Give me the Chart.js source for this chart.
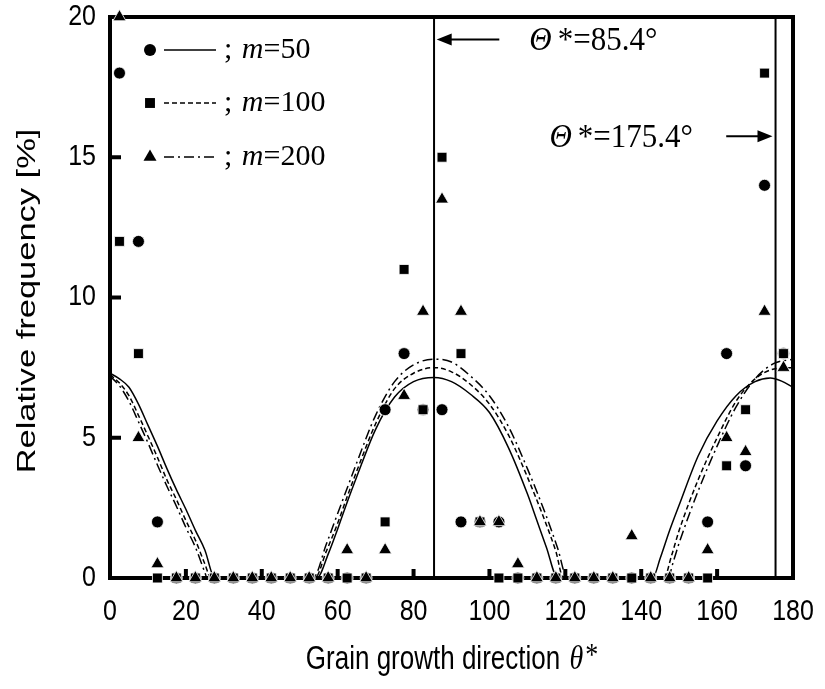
<!DOCTYPE html>
<html>
<head>
<meta charset="utf-8">
<script src="https://cdn.jsdelivr.net/npm/chart.js@4.4.1/dist/chart.umd.min.js"></script>
<style>
  body { margin: 0; background: #fff; }
  #wrap { width: 825px; height: 689px; }
</style>
</head>
<body>
<div id="wrap"><canvas id="freq"></canvas></div>
<script>
// 5 degree bins
const binCentres = [2.5, 7.5, 12.5, 17.5, 22.5, 27.5, 32.5, 37.5, 42.5, 47.5, 52.5, 57.5,
  62.5, 67.5, 72.5, 77.5, 82.5, 87.5, 92.5, 97.5, 102.5, 107.5, 112.5, 117.5,
  122.5, 127.5, 132.5, 137.5, 142.5, 147.5, 152.5, 157.5, 162.5, 167.5, 172.5, 177.5];

// relative frequency [%]
const freqM50 = [18, 12, 2, 0, 0, 0, 0, 0, 0, 0, 0, 0,
  0, 0, 6, 8, 6, 6, 2, 2, 2, 0, 0, 0,
  0, 0, 0, 0, 0, 0, 0, 2, 8, 4, 14, 8];
const freqM100 = [12, 8, 0, 0, 0, 0, 0, 0, 0, 0, 0, 0,
  0, 0, 2, 11, 6, 15, 8, 2, 0, 0, 0, 0,
  0, 0, 0, 0, 0, 0, 0, 0, 4, 6, 18, 8];
const freqM200 = [20, 5, 0.5, 0, 0, 0, 0, 0, 0, 0, 0, 0,
  1, 0, 1, 6.5, 9.5, 13.5, 9.5, 2, 2, 0.5, 0, 0,
  0, 0, 0, 1.5, 0, 0, 0, 1, 5, 4.5, 9.5, 7.5];

// fitted curves
const fitM50X = [0, 2.5, 5, 7.5, 10, 12.5, 15, 17.5, 20, 22.5, 25, 27.6,
  54.5, 57.5, 60, 62.5, 65, 70, 75, 80, 85.4, 90, 95, 100, 105, 110, 112.5, 115, 118,
  143, 145, 147.5, 150, 155, 160, 165, 170, 174, 177, 180];
const fitM50Y = [7.3, 7.1, 6.8, 6.2, 5.45, 4.7, 3.9, 3.15, 2.45, 1.7, 1.0, 0,
  0, 0.85, 1.75, 2.7, 3.6, 5.3, 6.45, 7.0, 7.15, 7.0, 6.55, 5.9, 4.65, 3.0, 2.05, 1.1, 0,
  0, 0.7, 1.7, 2.6, 4.35, 5.6, 6.5, 7.0, 7.13, 7.02, 6.8];
const fitM100X = [0, 2.5, 5, 7.5, 10, 12.5, 15, 17.5, 20, 22.5, 25, 26.6,
  54, 57, 60, 62.5, 65, 70, 75, 80, 85.4, 90, 95, 100, 105, 110, 115, 117.5, 119.5,
  146, 148, 150, 155, 160, 165, 170, 175, 180];
const fitM100Y = [7.25, 6.95, 6.5, 5.8, 5.06, 4.3, 3.5, 2.8, 2.05, 1.35, 0.5, 0,
  0, 0.95, 1.95, 2.9, 3.8, 5.5, 6.75, 7.3, 7.5, 7.35, 6.9, 6.2, 5.1, 3.6, 1.9, 0.95, 0,
  0, 0.8, 1.7, 3.5, 5.0, 6.3, 7.1, 7.45, 7.5];
const fitM200X = [0, 2.5, 5, 7.5, 10, 12.5, 15, 17.5, 20, 22.5, 25, 25.6,
  53.5, 57, 60, 62.5, 65, 70, 75, 80, 85.4, 90, 95, 100, 105, 110, 115, 118, 120.5,
  147, 148.5, 150, 155, 160, 165, 170, 175, 180];
const fitM200Y = [7.2, 6.85, 6.3, 5.57, 4.82, 4.03, 3.27, 2.56, 1.8, 1.1, 0.2, 0,
  0, 1.2, 2.3, 3.2, 4.1, 5.8, 7.0, 7.6, 7.8, 7.7, 7.2, 6.5, 5.4, 3.9, 2.2, 1.05, 0,
  0, 0.6, 1.25, 3.1, 4.7, 6.1, 7.1, 7.65, 7.8];

const thetaStar = [85.4, 175.4];
const thetaLabels = ['*=85.4\u00b0', '*=175.4\u00b0'];
const legendLabels = ['50', '100', '200'];
const xTicks = [0, 20, 40, 60, 80, 100, 120, 140, 160, 180];
const yTicks = [0, 5, 10, 15, 20];

const toPts = (xs, ys) => xs.map((x, i) => ({ x: x, y: ys[i] }));

const sans = '"Liberation Sans", Arial, sans-serif';
const serif = '"Liberation Serif", "Times New Roman", serif';

function stretchText(ctx, txt, x, y, sy, align) {
  ctx.save();
  ctx.translate(x, y);
  ctx.scale(1, sy);
  ctx.textAlign = align;
  ctx.textBaseline = 'middle';
  ctx.fillText(txt, 0, 0);
  ctx.restore();
}

function arrow(ctx, x1, x2, y) {
  const dir = x2 > x1 ? 1 : -1;
  ctx.beginPath();
  ctx.moveTo(x1, y);
  ctx.lineTo(x2 - dir * 12, y);
  ctx.lineWidth = 2;
  ctx.stroke();
  ctx.beginPath();
  ctx.moveTo(x2, y);
  ctx.lineTo(x2 - dir * 15, y - 6);
  ctx.lineTo(x2 - dir * 15, y + 6);
  ctx.closePath();
  ctx.fill();
}

const decor = {
  id: 'decor',
  beforeDatasetsDraw(chart) {
    const { ctx, chartArea: a, scales: { x, y } } = chart;
    ctx.save();
    ctx.strokeStyle = '#000';
    ctx.lineWidth = 4;
    ctx.strokeRect(a.left, a.top, a.right - a.left, a.bottom - a.top);
    ctx.beginPath();
    yTicks.slice(1, -1).forEach(v => {
      const py = y.getPixelForValue(v);
      ctx.moveTo(a.left, py);
      ctx.lineTo(a.left + 11, py);
    });
    xTicks.slice(1, -1).forEach(v => {
      const px = x.getPixelForValue(v);
      ctx.moveTo(px, a.bottom);
      ctx.lineTo(px, a.bottom - 9);
    });
    ctx.stroke();
    ctx.restore();
  },
  afterDraw(chart) {
    const { ctx, chartArea: a, scales: { x, y } } = chart;
    ctx.save();
    ctx.fillStyle = '#000';
    ctx.strokeStyle = '#000';

    // tick labels
    ctx.font = '25px ' + sans;
    yTicks.forEach(v => stretchText(ctx, String(v), 96, y.getPixelForValue(v), 1.15, 'right'));
    xTicks.forEach(v => stretchText(ctx, String(v), x.getPixelForValue(v), 612, 1.15, 'center'));

    // y title
    ctx.save();
    ctx.translate(28, 301);
    ctx.rotate(-Math.PI / 2);
    ctx.scale(1.3, 1);
    ctx.font = '26.5px ' + sans;
    ctx.textAlign = 'center';
    ctx.textBaseline = 'middle';
    ctx.fillText('Relative frequency [%]', 0, 0);
    ctx.restore();

    // x title
    ctx.font = '26px ' + sans;
    const t1 = 'Grain growth direction ';
    const w1 = ctx.measureText(t1).width;
    ctx.font = 'italic 28px ' + serif;
    const w2 = ctx.measureText('\u03b8').width;
    ctx.font = '26px ' + serif;
    const w3 = ctx.measureText('*').width;
    let sx = 452 - (w1 + w2 + w3 + 4) / 2;
    ctx.font = '26px ' + sans;
    stretchText(ctx, t1, sx, 660, 1.3, 'left');
    ctx.font = 'italic 28px ' + serif;
    stretchText(ctx, '\u03b8', sx + w1 + 2, 660, 1.2, 'left');
    ctx.font = '26px ' + serif;
    stretchText(ctx, '*', sx + w1 + w2 + 4, 657, 1.2, 'left');

    // legend
    const rows = [50, 103, 157];
    const dashes = [[], [5, 3], [10, 4, 2, 4]];
    const styles = ['circle', 'rect', 'triangle'];
    const radii = [6, 7, 7.5];
    rows.forEach((ry, i) => {
      Chart.helpers.drawPoint(ctx, { pointStyle: styles[i], radius: radii[i], borderWidth: 0 }, 150, ry);
      ctx.beginPath();
      ctx.setLineDash(dashes[i]);
      ctx.lineWidth = 1.5;
      ctx.moveTo(164, ry);
      ctx.lineTo(216, ry);
      ctx.stroke();
      ctx.setLineDash([]);
      let tx = 224;
      ctx.font = '30px ' + serif;
      ctx.textAlign = 'left';
      ctx.textBaseline = 'middle';
      ctx.fillText(';', tx, ry);
      tx += ctx.measureText('; ').width + 2;
      ctx.font = 'italic 30px ' + serif;
      ctx.fillText('m', tx, ry);
      tx += ctx.measureText('m').width;
      ctx.font = '30px ' + serif;
      ctx.fillText('=' + legendLabels[i], tx, ry);
    });

    // theta* annotations
    const annY = [19.2, 15.75];
    const tailX = [102.6, 162.4];
    const tipX = [86.1, 174.6];
    const textX = [110.5, 115.8];
    thetaStar.forEach((ts, i) => {
      const py = y.getPixelForValue(annY[i]);
      arrow(ctx, x.getPixelForValue(tailX[i]), x.getPixelForValue(tipX[i]), py);
      let tx = x.getPixelForValue(textX[i]);
      ctx.font = 'italic 31px ' + serif;
      stretchText(ctx, '\u0398', tx, py + 2, 1.1, 'left');
      tx += ctx.measureText('\u0398').width + 6;
      ctx.font = '31px ' + serif;
      stretchText(ctx, thetaLabels[i], tx, py + 2, 1.1, 'left');
    });
    ctx.restore();
  }
};

const curveStyle = { showLine: true, pointRadius: 0, borderColor: '#000', borderWidth: 1.5,
  fill: false, cubicInterpolationMode: 'monotone', order: 5 };
const markStyle = { backgroundColor: '#000', borderColor: '#fff', borderWidth: 0.8, clip: false };

new Chart(document.getElementById('freq'), {
  type: 'scatter',
  data: {
    datasets: [
      { ...markStyle, label: 'm=200', data: toPts(binCentres, freqM200), pointStyle: 'triangle', pointRadius: 7.5, order: 1 },
      { ...markStyle, label: 'm=100', data: toPts(binCentres, freqM100), pointStyle: 'rect', pointRadius: 7, order: 2 },
      { ...markStyle, label: 'm=50', data: toPts(binCentres, freqM50), pointStyle: 'circle', pointRadius: 6, order: 3 },
      { ...curveStyle, label: 'fit m=50', data: toPts(fitM50X, fitM50Y) },
      { ...curveStyle, label: 'fit m=100', data: toPts(fitM100X, fitM100Y), borderDash: [5, 3] },
      { ...curveStyle, label: 'fit m=200', data: toPts(fitM200X, fitM200Y), borderDash: [10, 4, 2, 4] },
      ...thetaStar.map(ts => ({ showLine: true, pointRadius: 0, borderColor: '#000', borderWidth: 2,
        data: [{ x: ts, y: 0 }, { x: ts, y: 20 }], order: 6 }))
    ]
  },
  options: {
    responsive: true,
    maintainAspectRatio: false,
    animation: false,
    layout: { padding: { top: 17, right: 32, left: 0, bottom: 0 } },
    plugins: { legend: { display: false }, tooltip: { enabled: false } },
    scales: {
      x: {
        type: 'linear', min: 0, max: 180,
        ticks: { display: false, stepSize: 20 },
        grid: { display: false }, border: { display: false },
        afterFit: s => { s.height = 111; }
      },
      y: {
        min: 0, max: 20,
        ticks: { display: false, stepSize: 5 },
        grid: { display: false }, border: { display: false },
        afterFit: s => { s.width = 110; }
      }
    }
  },
  plugins: [decor]
});
</script>
</body>
</html>
